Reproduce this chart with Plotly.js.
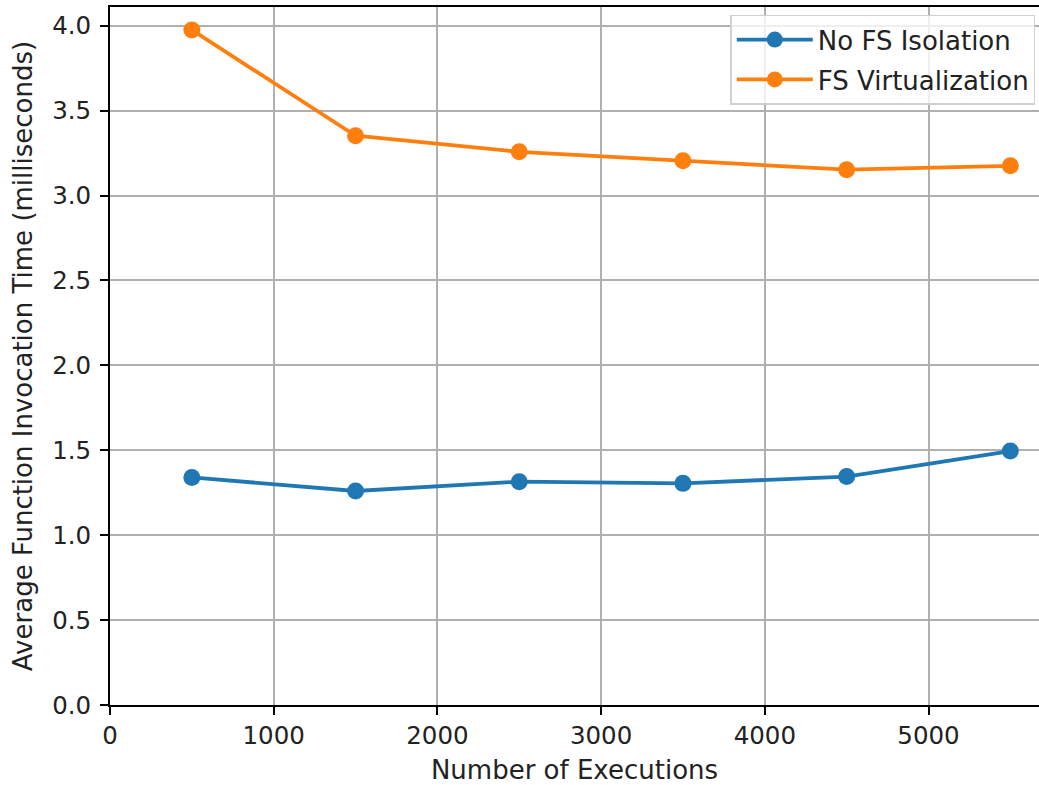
<!DOCTYPE html>
<html>
<head>
<meta charset="utf-8">
<script src="https://cdn.plot.ly/plotly-3.0.1.min.js"></script>
<style>html,body{margin:0;padding:0;background:#fff;overflow:hidden}</style>
</head>
<body>
<div id="chart" style="width:1039px;height:785px"></div>
<script>
const executions = [500, 1500, 2500, 3500, 4500, 5500];
const noFsIsolation = [1.34, 1.26, 1.315, 1.305, 1.345, 1.495];
const fsVirtualization = [3.975, 3.352, 3.257, 3.205, 3.152, 3.175];
const seriesNames = ["No FS Isolation", "FS Virtualization"];
const xTicks = [0, 1000, 2000, 3000, 4000, 5000];
const yTicks = [0, 0.5, 1.0, 1.5, 2.0, 2.5, 3.0, 3.5, 4.0];

const tickFont = {family: "DejaVu Sans", size: 24.5, color: "#222"};
const titleFont = {family: "DejaVu Sans", size: 26, color: "#222"};
const traces = [
  {x: executions, y: noFsIsolation, name: seriesNames[0], mode: "lines+markers",
   legendgroup: "a",
   line: {color: "#1f77b4", width: 3.8}, marker: {color: "#1f77b4", size: 17}},
  {x: executions, y: fsVirtualization, name: seriesNames[1], mode: "lines+markers",
   legendgroup: "b",
   line: {color: "#ff7f0e", width: 3.8}, marker: {color: "#ff7f0e", size: 17}}
];
const layout = {
  width: 1039, height: 785,
  margin: {l: 110, r: 0, t: 7, b: 80, pad: 0},
  paper_bgcolor: "#fff", plot_bgcolor: "#fff",
  font: tickFont,
  showlegend: true,
  legend: {x: 0.996, y: 0.989, xanchor: "right", yanchor: "top",
    traceorder: "grouped", tracegroupgap: 3,
    bgcolor: "rgba(255,255,255,0.8)", bordercolor: "#d0d0d0", borderwidth: 1.5,
    font: {family: "DejaVu Sans", size: 26, color: "#222"}, itemwidth: 76},
  xaxis: {range: [0, 5675], tickvals: xTicks, ticktext: xTicks.map(String),
    showgrid: true, gridcolor: "#b0b0b0", gridwidth: 2,
    showline: true, linecolor: "#000", linewidth: 2, mirror: true,
    ticks: "outside", ticklen: 8, tickwidth: 2, tickcolor: "#000",
    zeroline: false, tickfont: tickFont,
    title: {text: "Number of Executions", font: titleFont, standoff: 12}},
  yaxis: {range: [0, 4.11], tickvals: yTicks, ticktext: yTicks.map(v => v.toFixed(1)),
    showgrid: true, gridcolor: "#b0b0b0", gridwidth: 2,
    showline: true, linecolor: "#000", linewidth: 2,
    ticks: "outside", ticklen: 8, tickwidth: 2, tickcolor: "#000",
    ticklabelstandoff: 4,
    zeroline: false, tickfont: tickFont,
    title: {text: "Average Function Invocation Time (milliseconds)", font: titleFont, standoff: 12}}
};
Plotly.newPlot("chart", traces, layout, {displayModeBar: false, staticPlot: true});
</script>
</body>
</html>
